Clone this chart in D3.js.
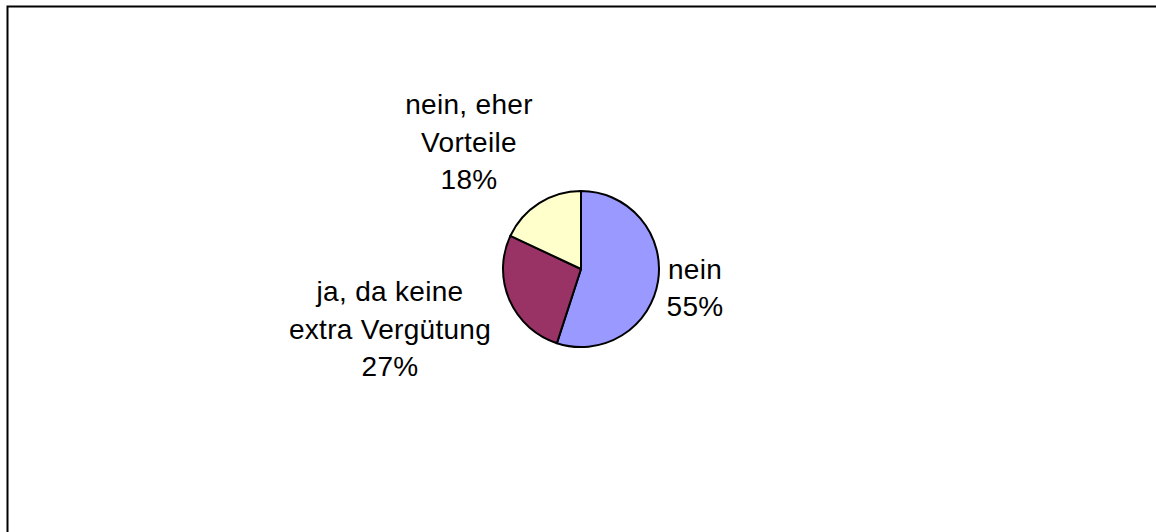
<!DOCTYPE html>
<html>
<head>
<meta charset="utf-8">
<script src="https://cdn.jsdelivr.net/npm/d3@7"></script>
<style>
  html, body { margin: 0; padding: 0; background: #fff; }
  svg { display: block; }
</style>
</head>
<body>
<svg id="chart" width="1156" height="532"></svg>
<script>
// ---- data ----
const categories = ["nein", "ja, da keine extra Vergütung", "nein, eher Vorteile"];
const labelLines = [["nein", "55%"], ["ja, da keine", "extra Vergütung", "27%"], ["nein, eher", "Vorteile", "18%"]];
const values = [55, 27, 18];
const colors = ["#9999FF", "#993366", "#FFFFCC"];

// ---- layout ----
const W = 1156, H = 532;
const cx = 581, cy = 269, R = 78;
const fontSize = 28, lineH = 37.5;
// label block centre offsets relative to pie centre (layout, not data)
const labelOffsets = [[114, 18.7], [-191, 59.7], [-112, -127]];

const svg = d3.select("#chart");

// frame (open to the right/bottom as in reference)
svg.append("path")
  .attr("d", `M7.5,${H} L7.5,6.5 L${W},6.5`)
  .attr("fill", "none").attr("stroke", "#000").attr("stroke-width", 2);

const pie = d3.pie().sort(null).value(d => d)
  .startAngle(0).endAngle(2 * Math.PI);
const arc = d3.arc().innerRadius(0).outerRadius(R);

const g = svg.append("g").attr("transform", `translate(${cx},${cy})`);
const arcs = pie(values);

g.selectAll("path.slice").data(arcs).enter().append("path")
  .attr("class", "slice")
  .attr("d", arc)
  .attr("fill", (d, i) => colors[i])
  .attr("stroke", "#000")
  .attr("stroke-width", 2)
  .attr("stroke-linejoin", "round");

// labels
const lbl = g.selectAll("text.lbl").data(arcs).enter().append("text")
  .attr("class", "lbl")
  .attr("font-family", "'Liberation Sans', Arial, sans-serif")
  .attr("font-size", fontSize)
  .attr("letter-spacing", 0.3)
  .attr("fill", "#000")
  .attr("text-anchor", "middle");

lbl.each(function(d, i) {
  const lines = labelLines[i];
  const [ox, oy] = labelOffsets[i];
  const n = lines.length;
  const t = d3.select(this);
  lines.forEach((s, k) => {
    t.append("tspan")
      .attr("x", ox)
      .attr("y", oy + (k - (n - 1) / 2) * lineH + fontSize * 0.35)
      .text(s);
  });
});
</script>
</body>
</html>
